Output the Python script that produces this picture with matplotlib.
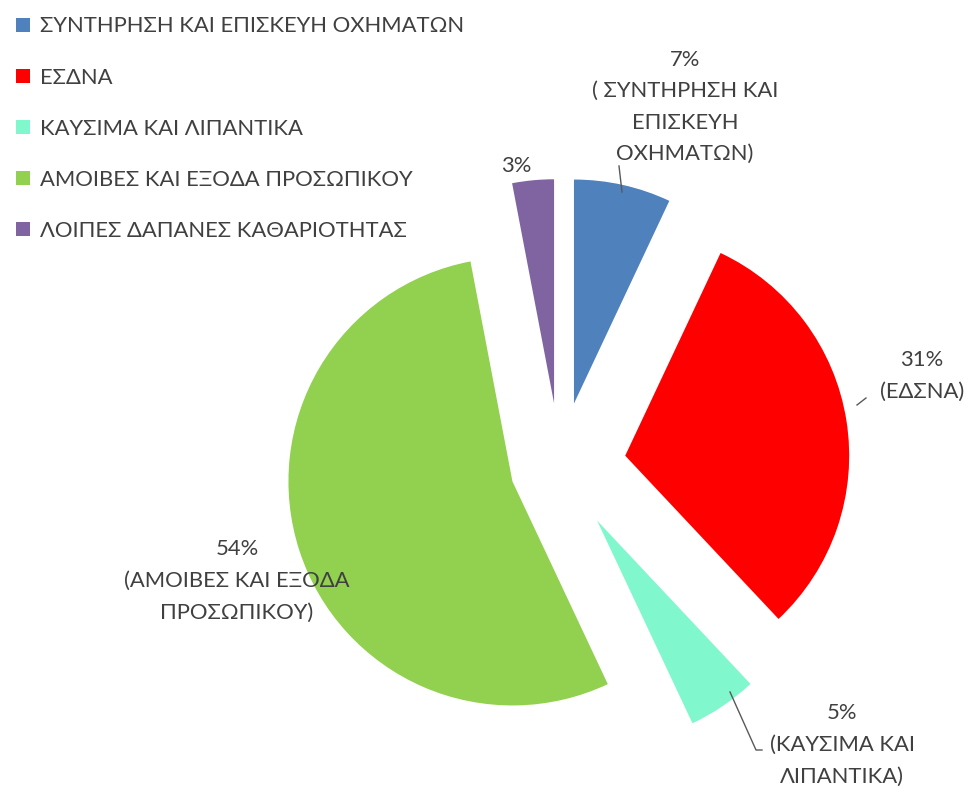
import matplotlib
matplotlib.use("Agg")
import matplotlib.pyplot as plt

categories = ["ΣΥΝΤΗΡΗΣΗ ΚΑΙ ΕΠΙΣΚΕΥΗ ΟΧΗΜΑΤΩΝ", "ΕΣΔΝΑ", "ΚΑΥΣΙΜΑ ΚΑΙ ΛΙΠΑΝΤΙΚΑ",
              "ΑΜΟΙΒΕΣ ΚΑΙ ΕΞΟΔΑ ΠΡΟΣΩΠΙΚΟΥ", "ΛΟΙΠΕΣ ΔΑΠΑΝΕΣ ΚΑΘΑΡΙΟΤΗΤΑΣ"]
values = [7, 31, 5, 54, 3]
label_texts = ["7%\n( ΣΥΝΤΗΡΗΣΗ ΚΑΙ\nΕΠΙΣΚΕΥΗ\nΟΧΗΜΑΤΩΝ)", "31%\n(ΕΔΣΝΑ)",
               "5%\n(ΚΑΥΣΙΜΑ ΚΑΙ\nΛΙΠΑΝΤΙΚΑ)", "54%\n(ΑΜΟΙΒΕΣ ΚΑΙ ΕΞΟΔΑ\nΠΡΟΣΩΠΙΚΟΥ)", "3%"]
colors = ["#4F81BD", "#FF0000", "#80F7CC", "#92D050", "#8064A2"]

W, H = 965, 788
fig = plt.figure(figsize=(W / 100, H / 100), dpi=100)
ax = fig.add_axes([0, 0, 1, 1])

R = 224
explode = [64, 66, 66, 50, 63]
wedges, _ = ax.pie(values, colors=colors, startangle=90, counterclock=False,
                   radius=R, center=(560, H - 466), explode=explode, frame=True)
ax.set_xlim(0, W)
ax.set_ylim(0, H)
ax.axis("off")

font = "Lato"
fs = 15.8
tc = "#404040"
lc = "#595959"
ls = 1.72


def P(x, y):
    return (x, H - y)


ax.text(*P(685, 107), label_texts[0], ha="center", va="center", fontsize=fs,
        family=font, color=tc, linespacing=ls)
ax.plot(*zip(P(619, 166), P(622, 192)), color=lc, lw=1)

ax.text(*P(922, 376), label_texts[1], ha="center", va="center", fontsize=fs,
        family=font, color=tc, linespacing=ls)
ax.plot(*zip(P(857, 405), P(866, 398)), color=lc, lw=1)

ax.text(*P(842, 745), label_texts[2], ha="center", va="center", fontsize=fs,
        family=font, color=tc, linespacing=ls)
ax.plot(*zip(P(730, 692), P(756, 750), P(762, 750)), color=lc, lw=1)

ax.text(*P(237, 581), label_texts[3], ha="center", va="center", fontsize=fs,
        family=font, color=tc, linespacing=ls)

ax.text(*P(516, 166), label_texts[4], ha="center", va="center", fontsize=fs,
        family=font, color=tc)

leg = ax.legend(wedges, categories, loc="upper left", bbox_to_anchor=(0.0, 1.0),
                frameon=False, prop={"family": font, "size": fs},
                handlelength=0.6, handleheight=0.6, handletextpad=0.45,
                labelspacing=1.42, borderaxespad=0.35)
for t in leg.get_texts():
    t.set_color(tc)

fig.savefig("out.png", dpi=100)
